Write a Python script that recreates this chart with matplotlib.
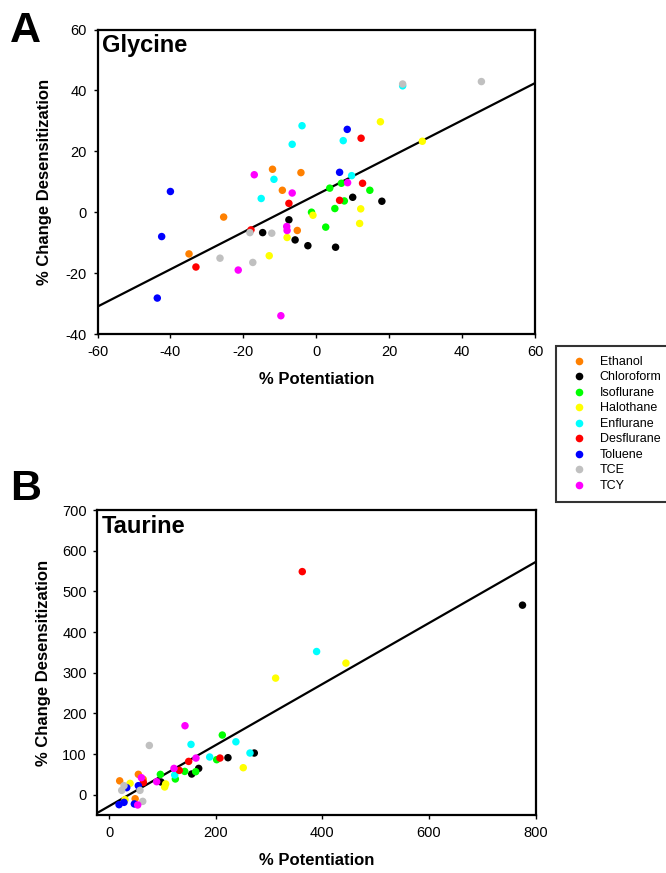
import numpy as np
import matplotlib
matplotlib.use("Agg")
import matplotlib.pyplot as plt
from matplotlib.lines import Line2D

plt.rcParams['font.family'] = ['Liberation Sans', 'DejaVu Sans']
plt.rcParams['axes.unicode_minus'] = False

# drug groups (legend order = drawing order)
drugs = ['Ethanol', 'Chloroform', 'Isoflurane', 'Halothane', 'Enflurane',
         'Desflurane', 'Toluene', 'TCE', 'TCY']
colors = ['#FF8000', '#000000', '#00FF00', '#FFFF00', '#00FFFF',
          '#FF0000', '#0000FF', '#C0C0C0', '#FF00FF']

# panel A: glycine, (% potentiation, % change desensitization)
gly_x = {
    'Ethanol':    [-12.0, -4.2, -9.3, -25.4, -5.2, -34.9],
    'Chloroform': [-7.5, -14.7, -5.8, -2.3, 10.0, 18.0, 5.3],
    'Isoflurane': [-1.3, 3.7, 6.9, 14.7, 7.7, 5.1, 2.6],
    'Halothane':  [-0.9, -8.0, -12.9, 17.6, 29.1, 12.2, 11.9],
    'Enflurane':  [-3.9, -6.6, -11.6, -15.1, 23.7, 7.4, 9.7],
    'Desflurane': [-7.5, -17.9, -33.0, 12.3, 12.7, 6.4],
    'Toluene':    [-40.0, -42.4, -43.6, 8.5, 6.4],
    'TCE':        [-18.2, -12.2, -26.4, -17.4, 23.7, 45.3],
    'TCY':        [-17.0, -6.6, -8.1, -8.0, -21.4, -9.7, 8.6],
}
gly_y = {
    'Ethanol':    [14.1, 13.0, 7.2, -1.6, -6.0, -13.7],
    'Chloroform': [-2.5, -6.7, -9.1, -11.0, 4.9, 3.6, -11.5],
    'Isoflurane': [0.0, 7.9, 9.5, 7.2, 3.7, 1.2, -4.9],
    'Halothane':  [-1.0, -8.3, -14.3, 29.7, 23.3, 1.1, -3.7],
    'Enflurane':  [28.4, 22.3, 10.8, 4.5, 41.5, 23.5, 12.0],
    'Desflurane': [2.9, -5.8, -18.0, 24.3, 9.5, 3.9],
    'Toluene':    [6.8, -8.0, -28.2, 27.2, 13.1],
    'TCE':        [-6.7, -6.9, -15.1, -16.5, 42.1, 42.9],
    'TCY':        [12.3, 6.3, -4.7, -6.0, -19.0, -34.0, 9.7],
}
gly_fit = [-60, 60]
gly_fit_y = [-31.0, 42.4]

# panel B: taurine
tau_x = {
    'Ethanol':    [20, 55, 49, 64],
    'Chloroform': [775.6, 272.5, 223.1, 168.2, 155.1, 97.5],
    'Isoflurane': [212.5, 201.9, 162.6, 142, 124.4, 96.3],
    'Halothane':  [444.4, 312.5, 251.8, 106.3, 104.4, 39.4, 30],
    'Enflurane':  [389.4, 153.8, 238, 264.4, 188.8, 123.2],
    'Desflurane': [362.5, 208.1, 149.4, 131.8, 64.4],
    'Toluene':    [33.2, 55, 18.8, 28.1, 47.5],
    'TCE':        [75.6, 28.1, 23.8, 58.1, 63.2],
    'TCY':        [142.5, 163.1, 121.9, 89.4, 60.6, 53.8],
}
tau_y = {
    'Ethanol':    [34, 50, -10, 38],
    'Chloroform': [466, 102.4, 90.9, 64.6, 50.8, 31.2],
    'Isoflurane': [146.6, 86, 56.5, 57.2, 38.6, 49.9],
    'Halothane':  [323.5, 286.6, 66.3, 26.3, 18.9, 27.8, -12],
    'Enflurane':  [352, 123.6, 130, 102.4, 92.6, 48.4],
    'Desflurane': [548.5, 90, 81.8, 59.7, 30],
    'Toluene':    [17.2, 22.1, -24.6, -18.9, -22.8],
    'TCE':        [121, 22.1, 10.6, 10.6, -16.5],
    'TCY':        [169.5, 90, 64.6, 31.9, 41.8, -25.3],
}
tau_fit = [-22, 800]
tau_fit_y = [-44.8, 572.0]


def style_axes(ax, title):
    for sp in ax.spines.values():
        sp.set_linewidth(1.6)
    ax.tick_params(direction='out', length=3, width=1, labelsize=10.5)
    ax.tick_params(axis='x', pad=5)
    ax.tick_params(axis='y', pad=4.5)
    ax.text(0.01, 0.985, title, transform=ax.transAxes, ha='left', va='top',
            fontsize=17, fontweight='bold')
    ax.set_xlabel('% Potentiation', fontsize=12, fontweight='bold')
    ax.set_ylabel('% Change Desensitization', fontsize=12, fontweight='bold')
    ax.xaxis.set_label_coords(0.5, -0.125)
    ax.yaxis.set_label_coords(-0.105, 0.5)


def draw_panel(ax, xs, ys, fit_x, fit_y):
    ax.plot(fit_x, fit_y, color='black', lw=1.6, zorder=1)
    for name, c in zip(drugs, colors):
        ax.scatter(xs[name], ys[name], s=29, color=c, edgecolors='none', zorder=2)


fig = plt.figure(figsize=(6.66, 8.73), dpi=100)
W, H = 666.0, 873.0

axA = fig.add_axes([97.5 / W, 1 - 334 / H, 437.5 / W, 304.5 / H])
draw_panel(axA, gly_x, gly_y, gly_fit, gly_fit_y)
axA.set_xlim(-60, 60)
axA.set_ylim(-40, 60)
axA.set_xticks(np.arange(-60, 61, 20))
axA.set_yticks(np.arange(-40, 61, 20))
style_axes(axA, 'Glycine')

axB = fig.add_axes([97.3 / W, 1 - 815 / H, 438.2 / W, 305 / H])
draw_panel(axB, tau_x, tau_y, tau_fit, tau_fit_y)
axB.set_xlim(-22, 800)
axB.set_ylim(-50, 700)
axB.set_xticks(np.arange(0, 801, 200))
axB.set_yticks(np.arange(0, 701, 100))
style_axes(axB, 'Taurine')

fig.text(10 / W, 1 - 42 / H, 'A', fontsize=31, fontweight='bold', va='baseline')
fig.text(10 / W, 1 - 500 / H, 'B', fontsize=31, fontweight='bold', va='baseline')

handles = [Line2D([], [], marker='o', ls='none', color=c, markersize=5.5,
                  markeredgewidth=0) for c in colors]
leg = fig.legend(handles, drugs, loc='upper left',
                 bbox_to_anchor=(556 / W, 1 - 346 / H), fontsize=9,
                 frameon=True, fancybox=False, edgecolor='black',
                 handlelength=2.1, handletextpad=0.6, labelspacing=0.28,
                 borderpad=0.8, borderaxespad=0)
leg.get_frame().set_linewidth(1.5)

fig.savefig('out.png', dpi=100)
